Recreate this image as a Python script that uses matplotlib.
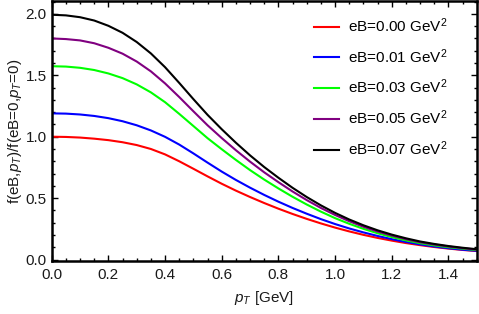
import matplotlib
matplotlib.use("Agg")
import matplotlib.pyplot as plt
from matplotlib.ticker import MultipleLocator, FormatStrFormatter

plt.rcParams['font.family'] = ['Liberation Sans', 'DejaVu Sans']
plt.rcParams['mathtext.fontset'] = 'custom'
plt.rcParams['mathtext.rm'] = 'Liberation Sans'
plt.rcParams['mathtext.it'] = 'Liberation Sans:italic'
plt.rcParams['mathtext.bf'] = 'Liberation Sans:bold'

pT = [0.00, 0.05, 0.10, 0.15, 0.20, 0.25, 0.30, 0.35, 0.40, 0.45,
      0.50, 0.55, 0.60, 0.65, 0.70, 0.75, 0.80, 0.85, 0.90, 0.95,
      1.00, 1.05, 1.10, 1.15, 1.20, 1.25, 1.30, 1.35, 1.40, 1.45, 1.50]

f_eB000 = [1.000, 0.998, 0.993, 0.984, 0.972, 0.955, 0.932, 0.900, 0.856, 0.800,
           0.739, 0.677, 0.617, 0.561, 0.509, 0.460, 0.414, 0.371, 0.331, 0.294,
           0.260, 0.229, 0.201, 0.176, 0.154, 0.134, 0.117, 0.102, 0.089, 0.078, 0.069]

f_eB001 = [1.190, 1.188, 1.181, 1.169, 1.151, 1.126, 1.093, 1.051, 0.999, 0.936,
           0.864, 0.789, 0.716, 0.648, 0.585, 0.526, 0.471, 0.420, 0.373, 0.329,
           0.289, 0.253, 0.221, 0.192, 0.166, 0.143, 0.123, 0.106, 0.092, 0.080, 0.071]

f_eB003 = [1.574, 1.571, 1.561, 1.543, 1.515, 1.477, 1.426, 1.361, 1.281, 1.186,
           1.087, 0.988, 0.898, 0.811, 0.728, 0.651, 0.579, 0.511, 0.448, 0.390,
           0.337, 0.291, 0.250, 0.214, 0.183, 0.156, 0.133, 0.115, 0.100, 0.088, 0.077]

f_eB005 = [1.800, 1.795, 1.784, 1.761, 1.724, 1.676, 1.612, 1.532, 1.434, 1.323,
           1.207, 1.093, 0.989, 0.890, 0.797, 0.710, 0.630, 0.554, 0.484, 0.420,
           0.363, 0.312, 0.267, 0.228, 0.195, 0.166, 0.141, 0.122, 0.106, 0.092, 0.081]

f_eB007 = [1.993, 1.988, 1.973, 1.946, 1.903, 1.846, 1.771, 1.678, 1.566, 1.438,
           1.306, 1.178, 1.061, 0.951, 0.848, 0.753, 0.666, 0.584, 0.509, 0.441,
           0.380, 0.326, 0.279, 0.238, 0.203, 0.173, 0.147, 0.127, 0.110, 0.096, 0.084]

labels = ['eB=0.00 GeV$^2$', 'eB=0.01 GeV$^2$', 'eB=0.03 GeV$^2$',
          'eB=0.05 GeV$^2$', 'eB=0.07 GeV$^2$']
series = [f_eB000, f_eB001, f_eB003, f_eB005, f_eB007]
colors = ['#ff0000', '#0000ff', '#00ff00', '#800080', '#000000']

fig = plt.figure(figsize=(4.79, 3.14), dpi=100)
ax = fig.add_axes([0.108, 0.1688, 0.9952 - 0.108, 0.998 - 0.1688])

for ys, c, lab in zip(series, colors, labels):
    ax.plot(pT, ys, color=c, lw=1.5, label=lab, solid_joinstyle='round')

ax.set_xlim(0, 1.5)
ax.set_ylim(-0.012, 2.108)

ax.xaxis.set_major_locator(MultipleLocator(0.2))
ax.xaxis.set_minor_locator(MultipleLocator(0.05))
ax.yaxis.set_major_locator(MultipleLocator(0.5))
ax.yaxis.set_minor_locator(MultipleLocator(0.1))
ax.xaxis.set_major_formatter(FormatStrFormatter('%.1f'))
ax.yaxis.set_major_formatter(FormatStrFormatter('%.1f'))

ax.tick_params(which='both', direction='in', top=True, right=True, color='black', width=1.0)
ax.tick_params(which='major', length=4.0, labelsize=11, labelcolor='#1a1a1a')
ax.tick_params(which='minor', length=2.2)
ax.tick_params(axis='x', which='major', pad=5)
ax.tick_params(axis='y', which='major', pad=3.5)

for s in ax.spines.values():
    s.set_linewidth(1.8)
    s.set_color('black')

ax.set_xlabel(r'$p_T$ [GeV]', fontsize=11, color='#1a1a1a', labelpad=5)
ax.set_ylabel(r'f(eB,$p_T$)/f(eB=0,$p_T$=0)', fontsize=11, color='#1a1a1a', labelpad=1.5)

ax.legend(loc='upper left', bbox_to_anchor=(0.617, 0.94), frameon=False,
          fontsize=11, handlelength=1.65, handletextpad=0.55, labelspacing=0.8,
          borderpad=0, borderaxespad=0)

fig.savefig('out.png', dpi=100, facecolor='white')
